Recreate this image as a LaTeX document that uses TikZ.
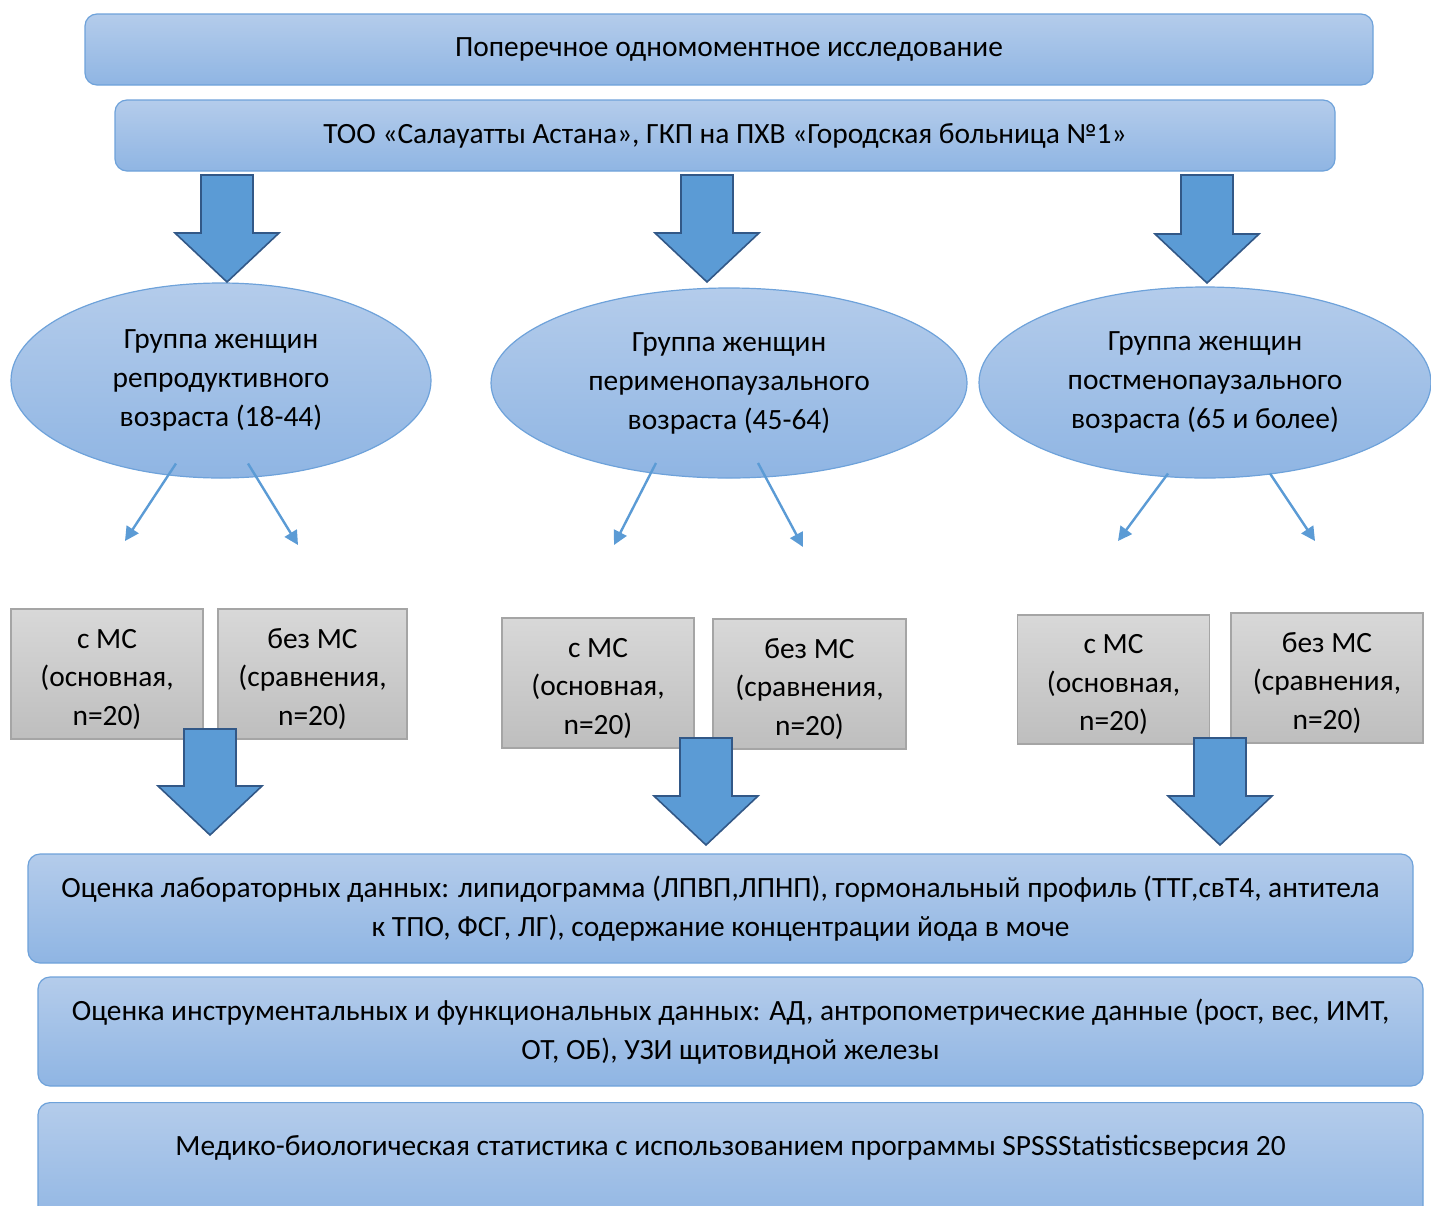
\documentclass[tikz,border=0pt]{standalone}
\usepackage{fontspec}
\setmainfont{Carlito}
\usepackage{tikz}
\usetikzlibrary{shapes.geometric, arrows.meta, calc}
\definecolor{BoxTop}{RGB}{180,204,235}
\definecolor{BoxBot}{RGB}{143,181,227}
\definecolor{BoxLine}{RGB}{110,162,218}
\definecolor{ArrFill}{RGB}{91,155,213}
\definecolor{ArrLine}{RGB}{50,88,135}
\definecolor{GrayTop}{RGB}{216,216,216}
\definecolor{GrayBot}{RGB}{190,190,190}
\definecolor{GrayLine}{RGB}{165,165,165}

% block arrow from top coordinate down to tip coordinate
\newcommand{\blockarr}[2]{%
  \draw[blk] let \p1=(#1), \p2=(#2) in
    (\x2-26pt,\y1) -- (\x2+26pt,\y1) -- (\x2+26pt,\y2+49pt)
    -- (\x2+52pt,\y2+49pt) -- (\x2,\y2) -- (\x2-52pt,\y2+49pt)
    -- (\x2-26pt,\y2+49pt) -- cycle;}

\begin{document}
\begin{tikzpicture}[x=1pt, y=-1pt,
          bar/.style={rectangle, rounded corners=12pt, draw=BoxLine,
                      line width=1.2pt, top color=BoxTop,
                      bottom color=BoxBot, align=center, inner sep=0pt,
                      font=\fontsize{29.4}{39}\selectfont},
          grp/.style={ellipse, draw=BoxLine, line width=1.2pt,
                      top color=BoxTop, bottom color=BoxBot,
                      align=center, inner sep=0pt,
                      font=\fontsize{29.4}{39}\selectfont},
          sub/.style={rectangle, draw=GrayLine, line width=1.2pt,
                      top color=GrayTop, bottom color=GrayBot,
                      minimum width=192pt, minimum height=130pt,
                      inner sep=0pt},
          subtxt/.style={align=center, inner sep=0pt,
                         font=\fontsize{29.4}{38.5}\selectfont},
          blk/.style={fill=ArrFill, draw=ArrLine, line width=1.6pt,
                      line join=miter},
          thin/.style={-{Triangle[length=14pt, width=14pt]}, ArrFill,
                       line width=2.4pt}
        ]
        \clip (0,0) rectangle (1431,1205);

        \node[bar, minimum width=1288pt, minimum height=71pt] (study)
              at (729,49.5) {Поперечное одномоментное исследование};
        \node[bar, minimum width=1220pt, minimum height=71pt] (clinic)
              at (725,135.5)
              {ТОО «Салауатты Астана», ГКП на ПХВ «Городская больница №1»};

        % age groups
        \node[grp, minimum width=420pt, minimum height=195pt] (g1)
              at (221,380.5)
              {Группа женщин\\репродуктивного\\возраста (18-44)};
        \node[grp, minimum width=476pt, minimum height=190pt] (g2)
              at (729,383)
              {Группа женщин\\перименопаузального\\возраста (45-64)};
        \node[grp, minimum width=452pt, minimum height=191pt] (g3)
              at (1205,382.5)
              {Группа женщин\\постменопаузального\\возраста (65 и более)};

        % subgroups
        \node[sub] (s1a) at (107,674) {};
        \node[sub, minimum width=189pt] (s1b) at (312.5,674) {};
        \node[sub] (s2a) at (598,683) {};
        \node[sub, minimum width=193pt] (s2b) at (809.5,684) {};
        \node[sub, minimum height=129pt] (s3a) at (1113.5,679.5) {};
        \node[sub] (s3b) at (1327,678) {};
        \foreach \s in {s1a, s2a, s3a} {
          \node[subtxt] (\s txt) at ($(\s)+(0,5)$)
                {с МС\\(основная,\\n=20)};
        }
        \foreach \s in {s1b, s2b, s3b} {
          \node[subtxt] (\s txt) at ($(\s)+(0,5)$)
                {без МС\\(сравнения,\\n=20)};
        }

        % thin arrows out of the groups
        \coordinate (e1a) at (125,541);
        \coordinate (e1b) at (298,545);
        \coordinate (e2a) at (614,545);
        \coordinate (e2b) at (803,547);
        \coordinate (e3a) at (1118,541);
        \coordinate (e3b) at (1315,541);
        \draw[thin] ($(g1.center)+(-45,83)$) -- (e1a);
        \draw[thin] ($(g1.center)+(27,83)$) -- (e1b);
        \draw[thin] ($(g2.center)+(-73,80)$) -- (e2a);
        \draw[thin] ($(g2.center)+(29,80)$) -- (e2b);
        \draw[thin] ($(g3.center)+(-37,91)$) -- (e3a);
        \draw[thin] ($(g3.center)+(65,91)$) -- (e3b);

        % results
        \node[bar, minimum width=1385pt, minimum height=109pt] (lab)
              at (720.5,908.5)
              {Оценка лабораторных данных: липидограмма (ЛПВП,ЛПНП),
               гормональный профиль (ТТГ,свТ4, антитела\\к ТПО, ФСГ, ЛГ),
               содержание концентрации йода в моче};
        \node[bar, minimum width=1385pt, minimum height=109pt] (instr)
              at (730.5,1031.5)
              {Оценка инструментальных и функциональных данных: АД,
               антропометрические данные (рост, вес, ИМТ,\\ОТ, ОБ),
               УЗИ щитовидной железы};
        \node[bar, minimum width=1385pt, minimum height=130pt,
              anchor=north] (stat) at (730.5,1102) {};
        \node[font=\fontsize{29.4}{39}\selectfont] (stattext)
              at ($(stat.north)+(0,46)$)
              {Медико-биологическая статистика с использованием программы
               SPSSStatisticsверсия 20};

        % block arrows
        \coordinate (a1t) at (227,175);  \coordinate (a1b) at (227,282);
        \coordinate (a2t) at (707,175);  \coordinate (a2b) at (707,282);
        \coordinate (a3t) at (1207,175); \coordinate (a3b) at (1207,283);
        \coordinate (b1t) at (210,729);  \coordinate (b1b) at (210,835);
        \coordinate (b2t) at (706,738);  \coordinate (b2b) at (706,845);
        \coordinate (b3t) at (1220,738); \coordinate (b3b) at (1220,845);
        \foreach \a in {a1, a2, a3, b1, b2, b3} {
          \blockarr{\a t}{\a b}
        }
      \end{tikzpicture}
\end{document}
